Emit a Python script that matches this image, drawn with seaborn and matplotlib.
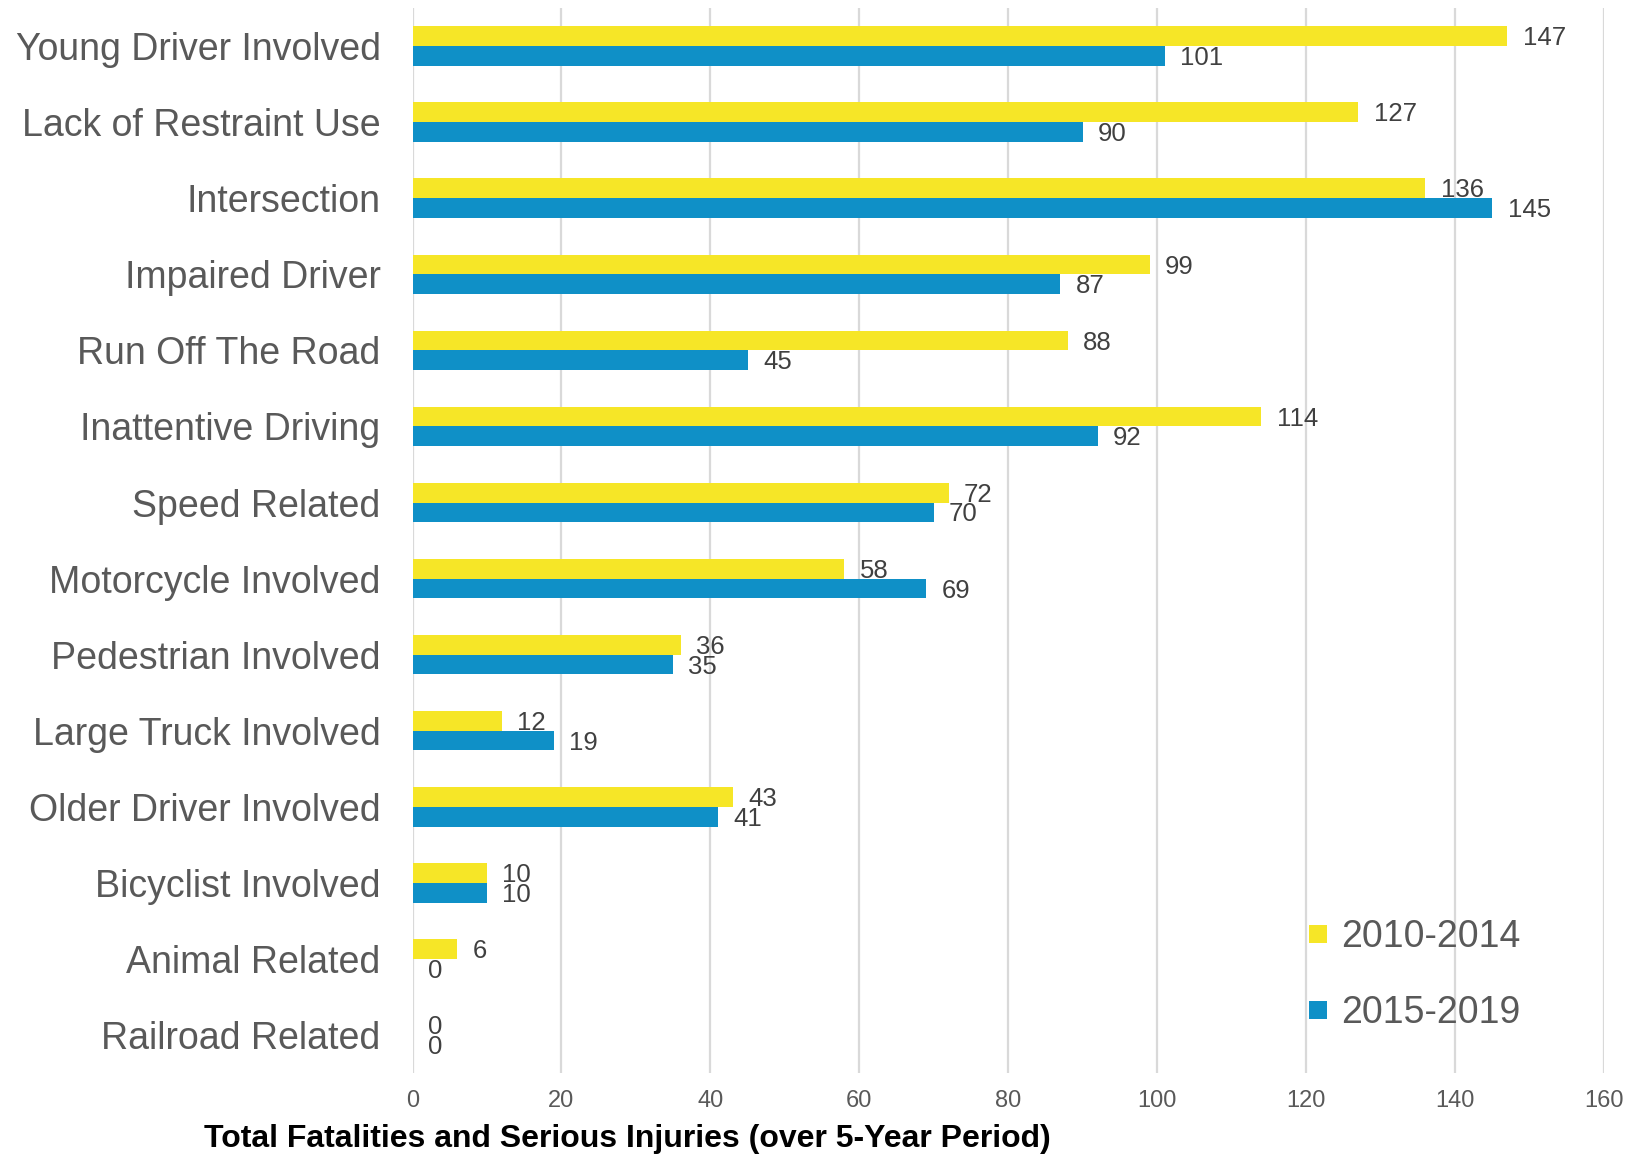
import matplotlib
matplotlib.use("Agg")
import matplotlib.pyplot as plt
from matplotlib.lines import Line2D
import seaborn as sns
import pandas as pd

categories = [
    "Young Driver Involved", "Lack of Restraint Use", "Intersection",
    "Impaired Driver", "Run Off The Road", "Inattentive Driving",
    "Speed Related", "Motorcycle Involved", "Pedestrian Involved",
    "Large Truck Involved", "Older Driver Involved", "Bicyclist Involved",
    "Animal Related", "Railroad Related",
]
period_a = "2010-2014"
period_b = "2015-2019"
values_a = [147, 127, 136, 99, 88, 114, 72, 58, 36, 12, 43, 10, 6, 0]
values_b = [101, 90, 145, 87, 45, 92, 70, 69, 35, 19, 41, 10, 0, 0]
x_ticks = [0, 20, 40, 60, 80, 100, 120, 140, 160]

colors = {period_a: "#F6E627", period_b: "#0F90C7"}

df = pd.DataFrame({
    "Category": categories * 2,
    "Period": [period_a] * len(categories) + [period_b] * len(categories),
    "Value": values_a + values_b,
})

sns.set_theme(style="white")
plt.rcParams["font.family"] = ["Liberation Sans", "DejaVu Sans"]

fig = plt.figure(figsize=(16.26, 11.54), dpi=100)
ax = fig.add_axes([0.2537, 0.0702, 0.7328, 0.9228])

sns.barplot(data=df, y="Category", x="Value", hue="Period", orient="h",
            palette=colors, width=0.52, order=categories, saturation=1,
            hue_order=[period_a, period_b], ax=ax, legend=False,
            edgecolor="none", linewidth=0)

# value labels just right of each bar end
for cont in ax.containers:
    labels = ax.bar_label(cont, padding=11, fontsize=18.5, color="#404040")
    for lbl in labels:
        lbl.set_va("center")
        lbl.xyann = (11, -1.5)

ax.set_xlim(0, 160)
ax.set_ylim(len(categories) - 0.5, -0.5)
ax.set_xticks(x_ticks)
ax.set_xticklabels([str(t) for t in x_ticks])
ax.xaxis.grid(True, color="#D9D9D9", linewidth=1.6)
ax.set_axisbelow(True)
for s in ax.spines.values():
    s.set_visible(False)
ax.tick_params(axis="x", length=0, pad=12, labelsize=17, labelcolor="#595959")
ax.tick_params(axis="y", length=0, pad=23, labelsize=27.0, labelcolor="#595959")
ax.set_xlabel("")
ax.set_ylabel("")

fig.text(0.386, 0.013, "Total Fatalities and Serious Injuries (over 5-Year Period)",
         ha="center", va="center", fontsize=23.0, fontweight="bold", color="black")

handles = [
    Line2D([], [], marker="s", linestyle="none", markersize=13,
           markerfacecolor=colors[period_a], markeredgewidth=0),
    Line2D([], [], marker="s", linestyle="none", markersize=13,
           markerfacecolor=colors[period_b], markeredgewidth=0),
]
leg = ax.legend(handles, [period_a, period_b], loc="center left",
                bbox_to_anchor=(0.735, 0.092), frameon=False, fontsize=27.0,
                handlelength=0.6, handletextpad=0.3, labelspacing=1.07,
                borderpad=0)
for t in leg.get_texts():
    t.set_color("#595959")

fig.savefig("out.png", dpi=100, facecolor="white")
